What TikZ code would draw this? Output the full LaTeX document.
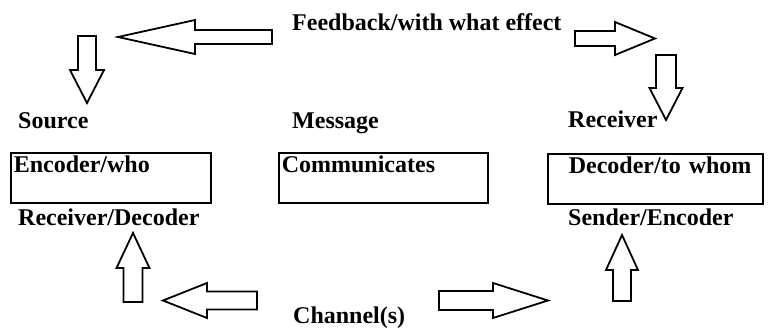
\documentclass[tikz,border=0pt]{standalone}
\usepackage{fontspec}
\setmainfont{Liberation Serif}

\tikzset{
  % outlined block arrow, drawn pointing right from the tail centre
  pics/fatarrow/.style n args={4}{code={
    \draw[arrowline] (0,-#2) -- ({#1-#4},-#2) -- ({#1-#4},-#3) -- (#1,0)
      -- ({#1-#4},#3) -- ({#1-#4},#2) -- (0,#2) -- cycle;
  }},
}

\begin{document}
\begin{tikzpicture}[x=1pt,y=-1pt,
  lbl/.style={anchor=base west, inner sep=0pt, font=\fontsize{24}{28}\selectfont\bfseries},
  msgbox/.style={draw, line width=1.6pt, anchor=north west, align=left,
    inner xsep=3pt, inner ysep=2pt, text height=18pt, text depth=28pt,
    font=\fontsize{24}{28}\selectfont\bfseries},
  arrowline/.style={line width=1.8pt, line join=miter}]

  \useasboundingbox (0,0) rectangle (781,335);

  % labels
  \node[lbl] (feedback) at (292,30) {Feedback/with what effect};
  \node[lbl] (source) at (18,128) {Source};
  \node[lbl] (message) at (292,128) {Message};
  \node[lbl] (receiver) at (568,127) {Receiver};
  \node[lbl] (recdec) at (18,225) {Receiver/Decoder};
  \node[lbl] (sendenc) at (568,225) {Sender/Encoder};
  \node[lbl] (channel) at (293,323) {Channel(s)};

  % boxes
  \node[msgbox, text width=194pt] (encoder) at (10,152) {Encoder/who};
  \node[msgbox, text width=203pt] (communicates) at (278,152) {Communicates};
  \node[msgbox, text width=209pt] (decoder) at (547,153) {\hspace*{18pt}Decoder/to whom};

  % feedback arrows
  \pic[rotate=180] (fbleft) at (272,37) {fatarrow={154}{7}{17}{77}};
  \pic[rotate=-90] (fbdownl) at (87,36) {fatarrow={67}{9}{17}{33}};
  \pic (fbright) at (575,38.5) {fatarrow={80}{7.5}{16.5}{40}};
  \pic[rotate=-90] (fbdownr) at (666,55) {fatarrow={65}{10}{16.5}{32}};

  % channel arrows
  \pic[rotate=90] (chupl) at (133,302) {fatarrow={69}{9.5}{16.5}{35}};
  \pic[rotate=180] (chleft) at (257,300.5) {fatarrow={94}{9}{17.5}{44}};
  \pic (chright) at (439,300.5) {fatarrow={109}{9.5}{17.5}{55}};
  \pic[rotate=90] (chupr) at (622,301) {fatarrow={66}{9}{16}{35}};
\end{tikzpicture}
\end{document}
